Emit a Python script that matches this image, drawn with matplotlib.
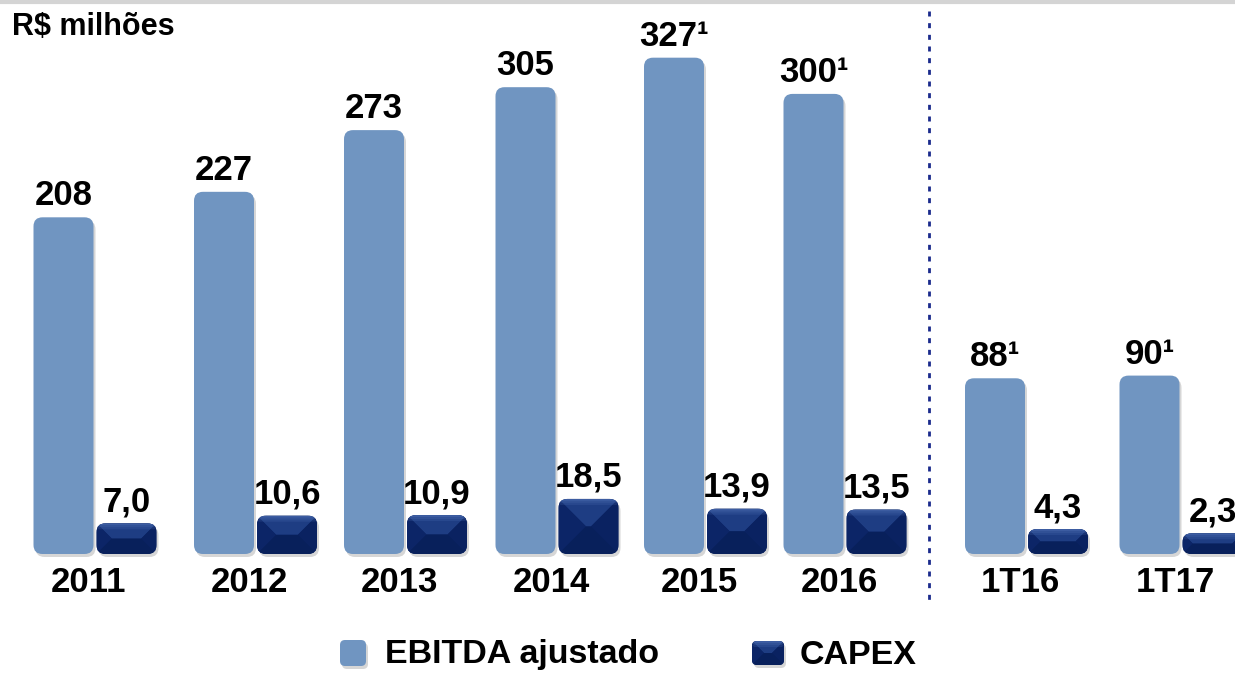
import numpy as np
import matplotlib.pyplot as plt
from matplotlib.patches import FancyBboxPatch, Polygon

plt.rcParams['font.family'] = ['Liberation Sans', 'DejaVu Sans']

# EBITDA ajustado e CAPEX (R$ milhões)
periods = ['2011', '2012', '2013', '2014', '2015', '2016', '1T16', '1T17']
ebitda = [208, 227, 273, 305, 327, 300, 88, 90]
ebitda_note = ['', '', '', '', '¹', '¹', '¹', '¹']
capex = [7.0, 10.6, 10.9, 18.5, 13.9, 13.5, 4.3, 2.3]

# layout: group centres (annual block, then the quarterly block after a gap)
group_x = [0, 1.07, 2.07, 3.08, 4.07, 5.0, 6.21, 7.24]
bar_w = 0.4
offset = 0.21

LIGHT = '#7095c1'
NAVY = '#0b2463'
W, H = 1235, 673

fig = plt.figure(figsize=(W / 100, H / 100), dpi=100)
ax = fig.add_axes([0, 119 / H, 1, 554 / H])
ax.set_xlim(-95 / 150, (W - 95) / 150)
# value axes do not start at zero; bars rise from the axis floor
ax.set_ylim(-43, 370)
ax.axis('off')
ax2 = ax.twinx()
ax2.set_ylim(-7.5, 254)
ax2.axis('off')

# overlay in pixel units for the rounded bar shapes and text
ov = fig.add_axes([0, 0, 1, 1], facecolor='none')
ov.set_xlim(0, W)
ov.set_ylim(0, H)
ov.axis('off')


def to_px(axis, x, y):
    return axis.transData.transform((x, y))


def rounded(x0, y0, w, h, color, r=9, shadow=True, z=2):
    if shadow:
        sh = FancyBboxPatch((x0 + 2, y0 - 3), w, h,
                            boxstyle=f'round,pad=0,rounding_size={r}',
                            fc='black', ec='none', alpha=0.16, zorder=z - 1)
        ov.add_patch(sh)
    box = FancyBboxPatch((x0, y0), w, h,
                         boxstyle=f'round,pad=0,rounding_size={r}',
                         fc=color, ec='none', zorder=z)
    ov.add_patch(box)
    return box


def bevel_bar(x0, y0, w, h, r=9):
    box = rounded(x0, y0, w, h, NAVY, r=r)
    d = min(w, h) / 2
    x1, y1 = x0 + w, y0 + h
    faces = [
        ([(x0, y1), (x1, y1), (x1 - d, y1 - d), (x0 + d, y1 - d)], '#1e3d83'),
        ([(x0, y0), (x0, y1), (x0 + d, y1 - d), (x0 + d, y0 + d)], '#0c2567'),
        ([(x1, y0), (x1, y1), (x1 - d, y1 - d), (x1 - d, y0 + d)], '#0a2261'),
        ([(x0, y0), (x1, y0), (x1 - d, y0 + d), (x0 + d, y0 + d)], '#08205b'),
    ]
    for pts, c in faces:
        p = Polygon(pts, closed=True, fc=c, ec='none', zorder=3)
        p.set_clip_path(box)
        ov.add_patch(p)
    ctr = Polygon([(x0 + d, y0 + d), (x1 - d, y0 + d), (x1 - d, y1 - d), (x0 + d, y1 - d)],
                  closed=True, fc=NAVY, ec='none', zorder=3)
    ctr.set_clip_path(box)
    ov.add_patch(ctr)
    # soft highlight along the top edge
    for k, a in enumerate([0.55, 0.35, 0.2]):
        hi = Polygon([(x0, y1 - k * 2), (x1, y1 - k * 2),
                      (x1 - 2, y1 - k * 2 - 2), (x0 + 2, y1 - k * 2 - 2)],
                     closed=True, fc='#5577bb', ec='none', zorder=4, alpha=a)
        hi.set_clip_path(box)
        ov.add_patch(hi)


label_kw = dict(fontsize=25, fontweight='bold', color='black', ha='center')

for i, period in enumerate(periods):
    gx = group_x[i]
    # EBITDA bar
    (ex0, ey0) = to_px(ax, gx - offset - bar_w / 2, ax.get_ylim()[0])
    (ex1, ey1) = to_px(ax, gx - offset + bar_w / 2, ebitda[i])
    rounded(ex0, ey0, ex1 - ex0, ey1 - ey0, LIGHT)
    ov.text((ex0 + ex1) / 2, ey1 + 5, f'{ebitda[i]}{ebitda_note[i]}',
            va='bottom', **label_kw)

    # CAPEX bar
    (cx0, cy0) = to_px(ax2, gx + offset - bar_w / 2, ax2.get_ylim()[0])
    (cx1, cy1) = to_px(ax2, gx + offset + bar_w / 2, capex[i])
    bevel_bar(cx0, cy0, cx1 - cx0, cy1 - cy0)
    ov.text((cx0 + cx1) / 2, cy1 + 5, f'{capex[i]:.1f}'.replace('.', ','),
            va='bottom', **label_kw)

    # period label
    px, _ = to_px(ax, gx, 0)
    ov.text(px - 6, H - 583, period, va='center', **label_kw)

# separator between annual and quarterly figures
ov.plot([929, 929], [H - 11, H - 605], color='#1a2a8c', lw=2,
        linestyle=(0, (1.8, 2.4)), zorder=1)

# thin rule along the top edge
ov.plot([0, W], [H - 1.5, H - 1.5], color='#d4d4d4', lw=3, zorder=1)

ov.text(12, H - 27, 'R$ milhões', fontsize=22, fontweight='bold',
        ha='left', va='center')

# legend
rounded(340, H - 666, 26, 26, LIGHT, r=5)
ov.text(385, H - 655, 'EBITDA ajustado', fontsize=24.5, fontweight='bold',
        ha='left', va='center')
bevel_bar(752, H - 665, 32, 24, r=5)
ov.text(800, H - 655, 'CAPEX', fontsize=24.5, fontweight='bold',
        ha='left', va='center')

fig.savefig('out.png', dpi=100, facecolor='white')
